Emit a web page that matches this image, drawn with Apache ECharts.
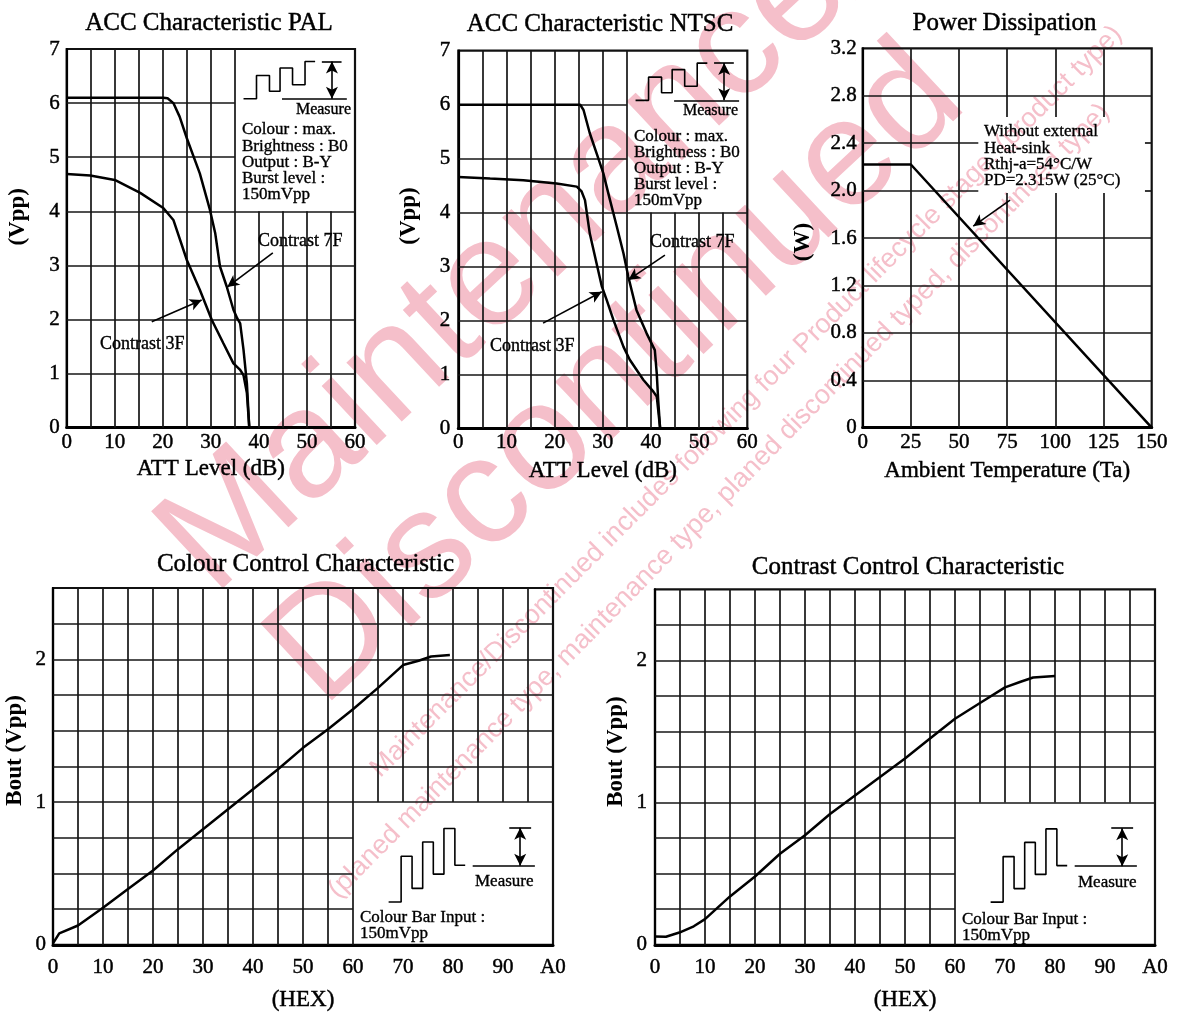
<!DOCTYPE html>
<html><head><meta charset="utf-8">
<script src="https://cdn.jsdelivr.net/npm/echarts@6/dist/echarts.min.js"></script>
<style>html,body{margin:0;padding:0;background:#fff}#c{width:1184px;height:1013px}</style>
</head><body><div id="c"></div>
<script>
// ---------------- data ----------------
const pal7F = [[0,6.1],[5,6.1],[10,6.1],[15,6.1],[20.1,6.1],[21,6.09],[22.2,6.0],[23.5,5.75],[25,5.35],[27.7,4.7],[29.8,4.03],[30.9,3.6],[31.9,2.98],[33.3,2.61],[34.7,2.18],[35.5,2.02],[36.1,1.93],[36.8,1.44],[37.5,0.82],[38,0]];
const pal3F = [[0,4.69],[4.9,4.66],[10,4.58],[15.3,4.34],[20.1,4.06],[22.2,3.84],[25,3.1],[27.7,2.55],[30.2,1.99],[32.6,1.56],[34.7,1.19],[36.1,1.07],[36.8,0.97],[37.5,0.64],[38,0]];
const ntsc7F = [[0,6.0],[10,6.0],[20,6.0],[25.3,6.0],[26,5.9],[27.3,5.47],[28.7,5.1],[30.1,4.73],[31.5,4.23],[32.9,3.74],[34.3,3.24],[35.3,2.81],[37,2.19],[39.1,1.76],[40.8,1.45],[41.2,1.02],[41.5,0.52],[41.9,0]];
const ntsc3F = [[0,4.66],[6.6,4.63],[13.5,4.6],[20.4,4.54],[24.6,4.48],[25.6,4.39],[26.3,4.23],[27.3,3.61],[28.7,3.06],[29.8,2.63],[30.8,2.38],[32.2,2.01],[34.3,1.51],[35.6,1.27],[38.4,0.9],[40.5,0.68],[41.2,0.59],[41.5,0.34],[41.9,0]];
const powerCurve = [[0,2.22],[25,2.22],[150,0]];
const colourCurve = [[0,0.01],[2,0.08],[8,0.135],[16,0.26],[24,0.39],[32,0.52],[40,0.67],[48,0.81],[56,0.95],[64,1.09],[72,1.23],[80,1.38],[88,1.51],[96,1.65],[104,1.8],[112,1.96],[117,1.99],[121,2.02],[127,2.03]];
const contrastCurve = [[0,0.058],[3.5,0.056],[7.8,0.086],[12.4,0.13],[16,0.18],[24,0.34],[32,0.48],[40,0.64],[48,0.77],[56,0.92],[64,1.05],[72,1.18],[80,1.31],[88,1.45],[96,1.59],[104,1.7],[112,1.81],[117,1.85],[121,1.88],[128,1.89]];

// axis ticks (grid lines)
const accXTicks = [0,5,10,15,20,25,30,35,40,45,50,55,60];
const accYTicks = [0,1,2,3,4,5,6,7];
const powerXTicks = [0,25,50,75,100,125,150];
const powerYTicks = [0,0.4,0.8,1.2,1.6,2.0,2.4,2.8,3.2];
const hexXTicks = [0,8,16,24,32,40,48,56,64,72,80,88,96,104,112,120,128,136,144,152,160];
const boutYTicks = [0,0.25,0.5,0.75,1,1.25,1.5,1.75,2,2.25,2.5];

// inset drawings (data units)
const accWave = [[36.8,6.08],[39.5,6.08],[39.5,6.51],[42.2,6.51],[42.2,6.22],[44.4,6.22],[44.4,6.65],[47.0,6.65],[47.0,6.34],[49.6,6.34],[49.6,6.77],[51.7,6.77]];
const accMeasureTop = [[53.1,6.77],[57.2,6.77]];
const accMeasureBase = [[44.8,6.08],[58.3,6.08]];
const accMeasureArrow = [[55.2,6.77],[55.2,6.08]];
const barWave = [[107.4,0.3],[111.4,0.3],[111.4,0.62],[114.9,0.62],[114.9,0.395],[118.3,0.395],[118.3,0.72],[121.7,0.72],[121.7,0.495],[125.1,0.495],[125.1,0.815],[128.6,0.815],[128.6,0.557],[131.9,0.557]];
const barMeasureTop = [[146,0.82],[153,0.82]];
const barMeasureBase = [[134.3,0.553],[154.2,0.553]];
const barMeasureArrow = [[149.5,0.82],[149.5,0.553]];

// callout arrows [from, to]
const pal7FArrow = [[42.9,3.23],[33.4,2.6]];
const pal3FArrow = [[17.7,1.96],[28.1,2.36]];
const ntsc7FArrow = [[42.9,3.21],[35.3,2.75]];
const ntsc3FArrow = [[17.6,1.95],[29.8,2.53]];
const powerArrow = [[76.5,1.92],[57.4,1.70]];

// inset (blank) areas [x0, y0, x1, y1]
const accBox = [35, 4, 60, 7];
const powerBox = [60, 1.98, 146.5, 2.62];
const barBox = [96, 0, 160, 1];

// watermark text
const watermarkBig = ['Maintenance/', 'Discontinued'];
const watermarkSmall = ['Maintenance/Discontinued includes following four Product lifecycle stage. (product type)',
                        '(planed maintenance type, maintenance type, planed discontinued typed, discontinued type)'];

// ---------------- styling ----------------
const FONT = '"Liberation Serif","Times New Roman",serif';
const SANS = '"Liberation Sans",Arial,sans-serif';
const INK = '#000';
const PINK = '#f5bfca';
const chart = echarts.init(document.getElementById('c'));

const grids = [
  {left:66.7, top:49, width:288.3, height:378.7},
  {left:458.3, top:50.7, width:289, height:377.6},
  {left:862.7, top:48.3, width:289, height:379.4},
  {left:53, top:588, width:500, height:358},
  {left:655, top:589.3, width:500, height:358}
].map(g => Object.assign(g, {show:true, borderColor:'#111', borderWidth:2.2, backgroundColor:'transparent'}));

const thick = {textBorderColor:INK, textBorderWidth:0.45};
function xAx(gi, ticks, fmt, name, nameGap, margin) {
  return {type:'value', gridIndex:gi, min:ticks[0], max:ticks[ticks.length-1], interval:ticks[1]-ticks[0],
    name, nameLocation:'middle', nameGap,
    nameTextStyle:Object.assign({fontFamily:FONT, fontSize:23, color:INK}, thick),
    axisLine:{show:true, onZero:false, lineStyle:{color:INK, width:3}},
    axisTick:{show:false},
    axisLabel:Object.assign({fontFamily:FONT, fontSize:21, color:INK, margin, formatter:fmt, showMinLabel:true, showMaxLabel:true}, thick),
    splitLine:{show:false}};
}
function yAx(gi, ticks, fmt, name, nameGap, pad, margin) {
  return {type:'value', gridIndex:gi, min:ticks[0], max:ticks[ticks.length-1], interval:ticks[1]-ticks[0],
    name, nameLocation:'middle', nameGap,
    nameTextStyle:{fontFamily:FONT, fontSize:23, fontWeight:'bold', color:INK, padding:pad},
    axisLine:{show:true, onZero:false, lineStyle:{color:INK, width:2.2}},
    axisTick:{show:false},
    axisLabel:Object.assign({fontFamily:FONT, fontSize:21, color:INK, margin, formatter:fmt}, thick),
    splitLine:{show:false}};
}
const tens = v => (v % 10 === 0 ? String(v) : '');
const hex = v => (v % 16 === 0 ? v.toString(16).toUpperCase() : '');
const intOnly = v => (Math.abs(v - Math.round(v)) < 1e-9 ? String(Math.round(v)) : '');
const pw = v => (v === 0 ? '0' : v.toFixed(1));

const xAxis = [
  xAx(0, accXTicks, tens, 'ATT Level (dB)', 30, 4),
  xAx(1, accXTicks, tens, 'ATT Level (dB)', 31, 4),
  xAx(2, powerXTicks, null, 'Ambient Temperature (Ta)', 32, 4),
  xAx(3, hexXTicks, hex, '(HEX)', 44, 12),
  xAx(4, hexXTicks, hex, '(HEX)', 44, 12)
];
const yAxis = [
  yAx(0, accYTicks, null, '(Vpp)', 37, [0,0,0,43], 7),
  yAx(1, accYTicks, null, '(Vpp)', 38, [0,0,0,47], 8),
  yAx(2, powerYTicks, pw, '(W)', 48, [0,8,0,0], 6),
  yAx(3, boutYTicks, intOnly, 'Bout (Vpp)', 26, [0,0,0,32], 7),
  yAx(4, boutYTicks, intOnly, 'Bout (Vpp)', 27, [0,0,0,31], 8)
];

function base(gi) { return {type:'line', xAxisIndex:gi, yAxisIndex:gi, silent:true, animation:false, symbol:'none', showSymbol:false}; }
function curve(gi, data, w) { return Object.assign(base(gi), {data, z:6, lineStyle:{color:INK, width:w}}); }

// grid lines in data space, leaving the inset area blank
function gridLines(gi, xs, ys, box) {
  const x0 = xs[0], x1 = xs[xs.length-1], y0 = ys[0], y1 = ys[ys.length-1];
  const out = [];
  xs.slice(1, -1).forEach(x => {
    if (box && x > box[0] && x <= box[2]) {
      if (box[1] > y0) out.push([[x, y0], [x, box[1]]]);
      if (box[3] < y1) out.push([[x, box[3]], [x, y1]]);
    } else out.push([[x, y0], [x, y1]]);
  });
  ys.slice(1, -1).forEach(y => {
    if (box && y > box[1] && y < box[3]) {
      if (box[0] > x0) out.push([[x0, y], [box[0], y]]);
      if (box[2] < x1) out.push([[box[2], y], [x1, y]]);
    } else out.push([[x0, y], [x1, y]]);
  });
  return Object.assign(base(gi), {data:[], z:2,
    markLine:{silent:true, animation:false, label:{show:false}, symbol:['none','none'],
      lineStyle:{color:'#161616', width:1.7, type:'solid'},
      data: out.map(s => [{coord:s[0]}, {coord:s[1]}])}});
}
function segs(gi, list) {
  return Object.assign(base(gi), {data:[], z:7,
    markLine:{silent:true, animation:false, label:{show:false}, symbolSize:[9,12],
      lineStyle:{color:INK, width:1.6, type:'solid'},
      data: list.map(s => [{coord:s.p[0], symbol:s.s0 || 'none'}, {coord:s.p[1], symbol:s.s1 || 'none'}])}});
}

const series = [
  gridLines(0, accXTicks, accYTicks, accBox),
  gridLines(1, accXTicks, accYTicks, accBox),
  gridLines(2, powerXTicks, powerYTicks, powerBox),
  gridLines(3, hexXTicks, boutYTicks, barBox),
  gridLines(4, hexXTicks, boutYTicks, barBox),
  curve(0, pal7F, 2.5), curve(0, pal3F, 2.5),
  curve(1, ntsc7F, 2.5), curve(1, ntsc3F, 2.5),
  curve(2, powerCurve, 2.5),
  curve(3, colourCurve, 2.5),
  curve(4, contrastCurve, 2.5),
  curve(0, accWave, 1.6), curve(1, accWave, 1.6), curve(3, barWave, 1.6), curve(4, barWave, 1.6),
  segs(0, [{p:accMeasureTop}, {p:accMeasureBase}, {p:accMeasureArrow, s0:'arrow', s1:'arrow'}, {p:pal7FArrow, s1:'arrow'}, {p:pal3FArrow, s1:'arrow'}]),
  segs(1, [{p:accMeasureTop}, {p:accMeasureBase}, {p:accMeasureArrow, s0:'arrow', s1:'arrow'}, {p:ntsc7FArrow, s1:'arrow'}, {p:ntsc3FArrow, s1:'arrow'}]),
  segs(2, [{p:powerArrow, s1:'arrow'}]),
  segs(3, [{p:barMeasureTop}, {p:barMeasureBase}, {p:barMeasureArrow, s0:'arrow', s1:'arrow'}]),
  segs(4, [{p:barMeasureTop}, {p:barMeasureBase}, {p:barMeasureArrow, s0:'arrow', s1:'arrow'}])
];

function title(text, cx, top) {
  return {text, left:cx, top, textAlign:'center', padding:0,
    textStyle:Object.assign({fontFamily:FONT, fontSize:25, fontWeight:'normal', color:INK}, thick)};
}
const titles = [
  title('ACC Characteristic PAL', 209, 11),
  title('ACC Characteristic NTSC', 600, 12),
  title('Power Dissipation', 1004.5, 11),
  title('Colour Control Characteristic', 305.5, 552),
  title('Contrast Control Characteristic', 908, 555)
];

function txt(text, x, y, size, align) {
  return {type:'text', z:20, silent:true, style:{text, x, y, fill:INK, font: size + 'px ' + FONT,
    stroke:INK, lineWidth:0.35, textAlign: align || 'left', textVerticalAlign:'middle'}};
}
function mark(text, x, y, size, deg) {
  return {type:'text', z:-10, silent:true, x, y, rotation: deg * Math.PI / 180,
    style:{text, x:0, y:0, fill:PINK, font: size + 'px ' + SANS, textAlign:'left', textVerticalAlign:'middle'}};
}
const insetLines = ['Colour : max.', 'Brightness : B0', 'Output : B-Y', 'Burst level :', '150mVpp'];
const powerLines = ['Without external', 'Heat-sink', 'Rthj-a=54°C/W', 'PD=2.315W (25°C)'];
const graphic = [
  mark(watermarkBig[0], 185, 566, 153, 43),
  mark(watermarkBig[1], 294, 678, 153, 43),
  mark(watermarkSmall[0], 375, 773, 27, 45),
  mark(watermarkSmall[1], 333, 894, 27, 45.5),
  txt('Measure', 351, 110, 16, 'right'),
  ...insetLines.map((t, i) => txt(t, 242, 130 + i * 16.2, 17)),
  txt('Contrast 7F', 258, 241, 18),
  txt('Contrast 3F', 100, 344, 18),
  txt('Measure', 738, 111, 16, 'right'),
  ...insetLines.map((t, i) => txt(t, 634, 137 + i * 15.8, 17)),
  txt('Contrast 7F', 650, 242, 18),
  txt('Contrast 3F', 490, 346, 18),
  ...powerLines.map((t, i) => txt(t, 984, 132 + i * 16.1, 17)),
  txt('Measure', 475, 882, 17),
  txt('Colour Bar Input :', 360, 918, 17),
  txt('150mVpp', 360, 934, 17),
  txt('Measure', 1078, 883, 17),
  txt('Colour Bar Input :', 962, 920, 17),
  txt('150mVpp', 962, 936, 17)
];

chart.setOption({
  animation:false,
  backgroundColor:'#fff',
  title: titles,
  grid: grids,
  xAxis, yAxis, series, graphic
});
</script>
</body></html>
